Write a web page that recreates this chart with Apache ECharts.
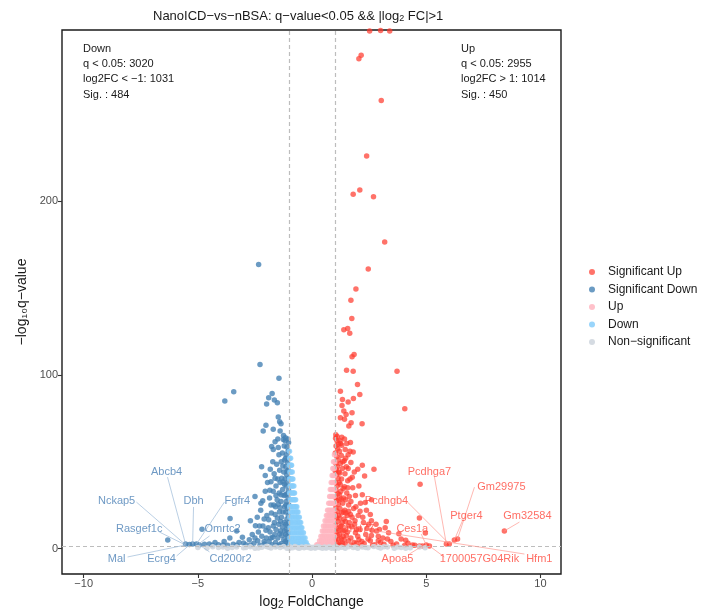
<!DOCTYPE html>
<html>
<head>
<meta charset="utf-8">
<script src="https://cdn.jsdelivr.net/npm/echarts@6/dist/echarts.min.js"></script>
<style>
html, body { margin: 0; padding: 0; background: #fff; }
#chart { width: 706px; height: 615px; }
</style>
</head>
<body>
<div id="chart"></div>
<script>
// values: [log2FC, -log10 q]
const sigUp = [
    [2.52, 298], [3.0, 298.3], [3.4, 298], [2.15, 284], [2.05, 282], [3.03, 258], [2.39, 226],
    [2.09, 206.5], [1.8, 204], [2.69, 202.5], [3.18, 176.5], [2.46, 161], [1.92, 149.5],
    [1.7, 143], [1.74, 132.5], [1.39, 126], [1.56, 126.7], [1.65, 124], [1.84, 111.7],
    [1.75, 110.4], [1.51, 102.7], [1.8, 102.1], [3.72, 102.1], [1.99, 94.5], [1.24, 90.6],
    [2.09, 88.7], [1.33, 85.8], [1.81, 86.4], [1.58, 84.3], [4.06, 80.5], [1.39, 79.2],
    [1.75, 78.2], [1.49, 77.2], [1.24, 75.3], [1.42, 74.4], [1.71, 72.4], [2.19, 71.9],
    [1.61, 70.5], [1.31, 82.4],
    [1.03, 63.5], [1.09, 62], [1.05, 59], [1.12, 57.5], [1.02, 55], [1.08, 53], [1.15, 51],
    [1.04, 49], [1.11, 47], [1.02, 44.5], [1.07, 42.5], [1.14, 40.5], [1.03, 38], [1.1, 36],
    [1.05, 33.5], [1.13, 31.5], [1.02, 29.5], [1.08, 27.5], [1.15, 25.5], [1.04, 23.5],
    [1.1, 21.5], [1.02, 19.5], [1.07, 17.5], [1.13, 15.5], [1.03, 13.5], [1.09, 11.5],
    [1.05, 9.5], [1.12, 7.5], [1.02, 5.5], [1.08, 3.5], [1.14, 2.0],
    [1.22, 62], [1.3, 59.5], [1.2, 56], [1.28, 53.5], [1.24, 49], [1.33, 46], [1.21, 43.5],
    [1.29, 40], [1.23, 37], [1.36, 34.5], [1.2, 31], [1.27, 28.5], [1.34, 26], [1.22, 23],
    [1.3, 20.5], [1.21, 17.5], [1.32, 15], [1.24, 12.5], [1.35, 10], [1.2, 8], [1.28, 5.5],
    [1.33, 3], [1.22, 1.8],
    [1.42, 63], [1.52, 60.5], [1.45, 57], [1.58, 54], [1.41, 50.5], [1.5, 47], [1.44, 43],
    [1.56, 39], [1.42, 35.5], [1.52, 32], [1.47, 28], [1.6, 25], [1.43, 22], [1.54, 19],
    [1.46, 15.5], [1.58, 13], [1.42, 10.5], [1.5, 7.5], [1.6, 4.5], [1.45, 2.5],
    [1.68, 61], [1.8, 55.5], [1.7, 49.5], [1.85, 44], [1.66, 40], [1.78, 35], [1.9, 30.5],
    [1.7, 27], [1.82, 23], [1.68, 19.5], [1.88, 16], [1.74, 12.5], [1.9, 9], [1.7, 6],
    [1.84, 3.5], [1.72, 1.9],
    [2.0, 45.6], [2.3, 41.8], [2.05, 36], [2.2, 31], [2.12, 26], [2.38, 22], [2.02, 19],
    [2.25, 15], [2.1, 11], [2.35, 8], [2.05, 5], [2.28, 2.8], [2.15, 1.7],
    [2.71, 45.6], [2.6, 28], [2.55, 19.5], [2.8, 14], [2.62, 10.5], [2.9, 7], [2.55, 4.5],
    [2.75, 2.2], [3.0, 3.5], [3.2, 12], [3.1, 6], [3.45, 4], [3.35, 9], [3.7, 2.6], [3.9, 5.5],
    [3.55, 1.9], [4.2, 3], [4.4, 2], [4.05, 1.7], [4.73, 37], [4.7, 17.5], [4.96, 8.9],
    [4.7, 1.4], [4.83, 1.4], [5.0, 2.0], [5.14, 1.4], [2.82, 10.1],
    [1.06, 45.5], [1.17, 44], [1.26, 33], [1.18, 28], [1.37, 21], [1.16, 19], [1.4, 17],
    [1.28, 13], [1.18, 10.5], [1.4, 5], [1.55, 9.5], [1.63, 15], [1.75, 18], [1.6, 21.5],
    [1.92, 24], [1.63, 30], [1.76, 41], [1.95, 11], [2.0, 7], [1.95, 3], [2.18, 4], [2.45, 5.5],
    [2.4, 11.5], [2.22, 18], [2.48, 14], [2.6, 7.5], [2.9, 4.5], [2.65, 1.8], [3.15, 2.5],
    [3.3, 5.5], [1.17, 5], [1.25, 2.4], [1.36, 7], [1.48, 20.5], [1.56, 35], [1.1, 64.5],
    [1.3, 64], [1.18, 38], [1.38, 29], [1.58, 46], [1.86, 14], [2.1, 21.5], [2.33, 26.5],
    [2.6, 16], [1.25, 60.5], [1.47, 52], [1.66, 56], [2.2, 48], [3.8, 8.5], [4.1, 4.8],
    [4.5, 1.9], [3.25, 15.5], [2.95, 11], [1.04, 65.5], [1.35, 50], [1.15, 60],
    [5.88, 2.6], [6.01, 2.6], [6.23, 4.9], [6.37, 5.5], [8.42, 10.1]
];

const sigDown = [
    [-2.34, 163.6], [-2.28, 106], [-1.45, 98.1], [-3.43, 90.3], [-3.82, 84.9], [-1.75, 89.3],
    [-1.9, 86.8], [-1.65, 85.5], [-1.52, 83.9], [-1.99, 83.2], [-1.48, 75.7], [-1.42, 73],
    [-1.36, 71.9], [-2.02, 70.9], [-2.14, 67.7], [-1.7, 68.6], [-1.4, 67.6], [-1.17, 63.8],
    [-1.26, 62.8], [-1.62, 61.5], [-1.77, 58.7], [-1.48, 58.1], [-2.21, 47], [-1.83, 45.6],
    [-3.59, 17.3], [-2.24, 26.1],
    [-1.03, 61], [-1.1, 58.5], [-1.05, 56], [-1.13, 54], [-1.02, 51.5], [-1.08, 49.5],
    [-1.15, 47], [-1.04, 45], [-1.11, 42.5], [-1.02, 40.5], [-1.07, 38], [-1.14, 36],
    [-1.03, 33.5], [-1.1, 31.5], [-1.05, 29], [-1.13, 27], [-1.02, 25], [-1.08, 23],
    [-1.15, 21], [-1.04, 19], [-1.1, 17], [-1.02, 15], [-1.07, 13], [-1.13, 11], [-1.03, 9],
    [-1.09, 7], [-1.05, 5], [-1.12, 3.2], [-1.02, 1.9],
    [-1.22, 59], [-1.3, 55], [-1.2, 51], [-1.28, 47.5], [-1.24, 44], [-1.33, 40.5],
    [-1.21, 37], [-1.29, 34], [-1.23, 30.5], [-1.36, 27], [-1.2, 24], [-1.27, 21],
    [-1.34, 18], [-1.22, 15], [-1.3, 12.5], [-1.21, 10], [-1.32, 7.5], [-1.24, 5],
    [-1.35, 2.8], [-1.2, 1.7],
    [-1.45, 54], [-1.55, 48.5], [-1.42, 45], [-1.5, 40], [-1.58, 36], [-1.44, 32],
    [-1.53, 28], [-1.6, 24], [-1.43, 21], [-1.52, 17.5], [-1.46, 14], [-1.58, 11],
    [-1.42, 8.5], [-1.5, 6], [-1.6, 3.5], [-1.45, 2.0],
    [-1.72, 50], [-1.66, 43], [-1.8, 38.5], [-1.7, 33], [-1.86, 29], [-1.68, 25],
    [-1.78, 20.5], [-1.9, 16.5], [-1.7, 13], [-1.84, 9.5], [-1.72, 6.5], [-1.88, 4],
    [-1.75, 2.2],
    [-2.05, 33], [-1.95, 38], [-2.25, 22], [-2.1, 17], [-2.3, 13], [-2.02, 10.5], [-2.2, 7],
    [-2.38, 4.5], [-2.08, 2.6], [-2.28, 1.8], [-2.5, 30],
    [-2.48, 13.1], [-2.62, 8], [-2.75, 5], [-2.55, 3], [-2.9, 2.2], [-2.7, 16],
    [-3.05, 6.5], [-3.2, 3.5], [-3.45, 2.4], [-3.7, 1.9], [-3.85, 4],
    [-4.1, 2.2], [-4.36, 1.8], [-4.5, 2.6], [-4.82, 11.1], [-4.71, 2.5],
    [-1.06, 63], [-1.18, 62], [-1.16, 52], [-1.35, 50], [-1.18, 40], [-1.4, 38], [-1.17, 31],
    [-1.36, 31], [-1.15, 25], [-1.4, 23.5], [-1.15, 14], [-1.38, 15.5], [-1.16, 8], [-1.38, 10],
    [-1.17, 4], [-1.3, 1.6], [-1.55, 1.6], [-1.63, 8], [-1.65, 15], [-1.62, 19.5], [-1.58, 30.5],
    [-1.8, 25], [-1.92, 12], [-2.0, 6], [-1.98, 19], [-2.15, 13], [-2.35, 9.5], [-2.5, 6],
    [-2.7, 2.0], [-3.0, 3.2], [-3.3, 1.8], [-1.62, 40.5], [-1.7, 57], [-1.5, 63], [-1.85, 33.5],
    [-2.16, 27.5], [-2.05, 42], [-2.4, 18], [-3.3, 10], [-3.6, 6], [-3.9, 2.0], [-4.25, 3.4],
    [-1.25, 65], [-1.1, 44.5], [-1.28, 38.5], [-1.48, 25.5], [-1.8, 6], [-2.1, 4],
    [-5.54, 2.6], [-5.37, 2.3], [-5.23, 2.6], [-5.06, 2.6], [-4.93, 2.0], [-6.32, 4.9]
];

const up = [
    [0.98, 54], [0.99, 50], [0.94, 50], [0.97, 46], [0.91, 46], [0.99, 42], [0.93, 42], [0.88, 42],
    [0.96, 38], [0.9, 38], [0.84, 38], [0.98, 34], [0.92, 34], [0.86, 34], [0.8, 34],
    [0.95, 30], [0.89, 30], [0.83, 30], [0.77, 30], [0.98, 26], [0.92, 26], [0.85, 26],
    [0.79, 26], [0.73, 26], [0.95, 22], [0.88, 22], [0.81, 22], [0.74, 22], [0.68, 22],
    [0.97, 19], [0.9, 19], [0.83, 19], [0.76, 19], [0.69, 19], [0.63, 19],
    [0.93, 16], [0.86, 16], [0.78, 16], [0.71, 16], [0.64, 16], [0.57, 16],
    [0.96, 13], [0.88, 13], [0.8, 13], [0.72, 13], [0.64, 13], [0.57, 13], [0.5, 13],
    [0.92, 10], [0.84, 10], [0.76, 10], [0.68, 10], [0.6, 10], [0.52, 10], [0.45, 10],
    [0.97, 7], [0.88, 7], [0.79, 7], [0.7, 7], [0.62, 7], [0.54, 7], [0.46, 7], [0.39, 7],
    [0.93, 4.5], [0.84, 4.5], [0.75, 4.5], [0.66, 4.5], [0.57, 4.5], [0.49, 4.5], [0.41, 4.5], [0.33, 4.5],
    [0.96, 2.2], [0.86, 2.2], [0.77, 2.2], [0.68, 2.2], [0.59, 2.2], [0.5, 2.2], [0.42, 2.2],
    [0.34, 2.2], [0.27, 2.2], [0.21, 2.2]
];

const down = [
    [-0.99, 56], [-0.98, 52], [-0.94, 52], [-0.99, 48], [-0.93, 48], [-0.9, 48],
    [-0.97, 44], [-0.92, 44], [-0.87, 44], [-0.99, 40], [-0.94, 40], [-0.88, 40], [-0.84, 40],
    [-0.96, 36], [-0.9, 36], [-0.85, 36], [-0.8, 36], [-0.98, 32], [-0.93, 32], [-0.87, 32],
    [-0.81, 32], [-0.77, 32], [-0.95, 28], [-0.89, 28], [-0.83, 28], [-0.77, 28], [-0.72, 28],
    [-0.98, 24], [-0.92, 24], [-0.85, 24], [-0.78, 24], [-0.72, 24], [-0.67, 24],
    [-0.94, 21], [-0.87, 21], [-0.8, 21], [-0.73, 21], [-0.66, 21], [-0.62, 21],
    [-0.97, 18], [-0.9, 18], [-0.83, 18], [-0.75, 18], [-0.68, 18], [-0.61, 18], [-0.56, 18],
    [-0.93, 15], [-0.86, 15], [-0.78, 15], [-0.7, 15], [-0.62, 15], [-0.55, 15], [-0.5, 15],
    [-0.96, 12], [-0.88, 12], [-0.8, 12], [-0.72, 12], [-0.64, 12], [-0.56, 12], [-0.49, 12], [-0.45, 12],
    [-0.92, 9], [-0.84, 9], [-0.75, 9], [-0.67, 9], [-0.59, 9], [-0.51, 9], [-0.44, 9], [-0.38, 9],
    [-0.97, 6], [-0.88, 6], [-0.79, 6], [-0.7, 6], [-0.61, 6], [-0.53, 6], [-0.45, 6], [-0.37, 6], [-0.31, 6],
    [-0.93, 3.5], [-0.84, 3.5], [-0.74, 3.5], [-0.65, 3.5], [-0.56, 3.5], [-0.47, 3.5], [-0.39, 3.5],
    [-0.32, 3.5], [-0.26, 3.5],
    [-0.96, 1.8], [-0.87, 1.8], [-0.77, 1.8], [-0.68, 1.8], [-0.58, 1.8], [-0.49, 1.8], [-0.41, 1.8],
    [-0.33, 1.8], [-0.26, 1.8], [-0.2, 1.8]
];

const nonSig = [
    [-4.6, 0.3], [-4.1, 0.6], [-3.7, 0.2], [-3.3, 0.9], [-3.0, 0.4], [-2.7, 1.0], [-2.5, 0.1],
    [-2.2, 0.7], [-2.0, 1.1], [-1.8, 0.3], [-1.6, 0.8], [-1.4, 0.5], [-1.25, 1.2], [-1.1, 0.2],
    [-0.95, 0.9], [-0.85, 0.4], [-0.75, 1.1], [-0.65, 0.6], [-0.55, 0.1], [-0.45, 0.8],
    [-0.35, 0.35], [-0.25, 1.0], [-0.15, 0.5], [-0.05, 0.15], [0.05, 0.7], [0.15, 0.3],
    [0.25, 1.1], [0.35, 0.55], [0.45, 0.1], [0.55, 0.85], [0.65, 0.4], [0.75, 1.05], [0.85, 0.2],
    [0.95, 0.65], [1.05, 0.95], [1.15, 0.3], [1.3, 0.75], [1.45, 0.15], [1.6, 1.0], [1.8, 0.5],
    [2.0, 0.2], [2.2, 0.9], [2.45, 0.4], [2.7, 1.1], [3.0, 0.3], [3.3, 0.8], [3.6, 0.2],
    [3.9, 0.6], [4.3, 0.4], [4.7, 0.9], [-0.6, 0.25], [0.6, 0.3], [-0.3, 0.7], [0.3, 0.8],
    [-1.0, 0.05], [1.0, 0.05], [-2.9, 0.6], [2.9, 0.65], [-0.1, 0.9], [0.1, 0.45],
    [-5.0, 0.5], [-4.35, 1.0], [-3.9, 0.9], [-3.5, 0.5], [-2.35, 0.3], [-1.9, 0.75],
    [1.9, 0.8], [2.35, 0.6], [3.15, 1.0], [3.75, 0.9], [4.1, 0.1], [4.95, 0.4]
];

const groupNames = ['Significant Up', 'Significant Down', 'Up', 'Down', 'Non\u2212significant'];
const xTicks = [-10, -5, 0, 5, 10];
const yTicks = [0, 100, 200];
const fcCut = [-1, 1];
const qCut = 1.3;

// gene, point x, point y, label x, label y, segment start x, segment start y
const genesDown = [
    ['Abcb4', -5.54, 2.6, -6.37, 44.0, -6.33, 41.1],
    ['Nckap5', -5.58, 2.6, -8.56, 27.3, -7.69, 26.7],
    ['Dbh', -5.23, 2.6, -5.19, 27.3, -5.19, 23.9],
    ['Fgfr4', -5.06, 2.6, -3.27, 27.3, -3.84, 26.7],
    ['Rasgef1c', -5.54, 2.0, -7.57, 11.2, -6.69, 9.5],
    ['Omrtc2', -4.97, 2.6, -3.92, 11.2, -4.49, 7.2],
    ['Mal', -5.54, 2.0, -8.56, -6.0, -8.08, -4.9],
    ['Ecrg4', -5.37, 2.0, -6.59, -6.0, -5.93, -4.3],
    ['Cd200r2', -4.93, 2.0, -3.57, -6.0, -4.49, -2.0]
];
const genesUp = [
    ['Pcdhga7', 5.88, 2.6, 5.14, 44.0, 5.36, 41.1],
    ['Gm29975', 6.37, 5.5, 8.29, 35.3, 7.11, 35.3],
    ['Pcdhgb4', 6.01, 2.6, 3.26, 27.3, 4.18, 26.7],
    ['Ptger4', 6.23, 4.9, 6.76, 18.7, 6.58, 15.8],
    ['Gm32584', 8.42, 10.1, 9.43, 18.7, 9.08, 15.2],
    ['Ces1a', 5.0, 2.0, 4.39, 11.2, 4.78, 8.3],
    ['Dmrt77', 2.82, 10.1, 1.94, 11.2, 1.94, 11.2],
    ['Apoa5', 4.83, 1.4, 3.74, -6.0, 4.26, -3.2],
    ['1700057G04Rik', 5.14, 1.4, 7.33, -6.0, 5.79, -4.9],
    ['Hfm1', 2.82, 10.1, 9.95, -6.0, 9.30, -3.2]
];

const colors = ['#FF3B2F', '#4682B4', '#FFB6C1', '#87CEFA', '#D0D7DF'];
const FONT = "'Liberation Sans', Arial, sans-serif";
const minus = (v) => String(v).replace('-', '\u2212');

const chart = echarts.init(document.getElementById('chart'));

function pointSeries(name, data, color, opacity) {
    return {
        name: name,
        type: 'scatter',
        data: data,
        symbolSize: 5.5,
        itemStyle: { color: color, opacity: opacity },
        emphasis: { disabled: true },
        silent: true
    };
}

function segSeries(list, color) {
    return {
        type: 'lines',
        coordinateSystem: 'cartesian2d',
        polyline: false,
        silent: true,
        z: 5,
        lineStyle: { color: color, width: 1, opacity: 0.7 },
        data: list.filter(g => g[3] !== g[5] || g[4] !== g[6])
            .map(g => ({ coords: [[g[5], g[6]], [g[1], g[2]]] }))
    };
}

function textSeries(list, color) {
    return {
        type: 'scatter',
        silent: true,
        z: 6,
        symbolSize: 1,
        itemStyle: { color: 'rgba(0,0,0,0)' },
        label: {
            show: true,
            position: 'inside',
            formatter: '{b}',
            color: color,
            fontSize: 11,
            fontFamily: FONT
        },
        data: list.map(g => ({ name: g[0], value: [g[3], g[4]] }))
    };
}

const subStyle = { fontSize: 10, verticalAlign: 'bottom', padding: [6, 0, 0, 0], fontFamily: FONT };

const option = {
    animation: false,
    textStyle: { fontFamily: FONT },
    title: {
        text: 'NanoICD\u2212vs\u2212nBSA: q\u2212value<0.05 && |log{s|2} FC|>1',
        left: 148,
        top: 4,
        textStyle: {
            fontSize: 13,
            fontWeight: 'normal',
            color: '#1a1a1a',
            fontFamily: FONT,
            rich: { s: { fontSize: 9, verticalAlign: 'bottom', padding: [5, 0, 0, 0], fontFamily: FONT } }
        }
    },
    legend: {
        data: groupNames,
        orient: 'vertical',
        left: 584,
        top: 260,
        icon: 'circle',
        itemWidth: 22,
        itemHeight: 6,
        itemGap: 3.5,
        textStyle: { fontSize: 12, color: '#1a1a1a', lineHeight: 14, fontFamily: FONT }
    },
    grid: {
        left: 62,
        right: 145,
        top: 30,
        bottom: 40,
        show: true,
        borderColor: '#1a1a1a',
        borderWidth: 1.4
    },
    xAxis: {
        type: 'value',
        min: -10.95,
        max: 10.9,
        name: 'log{s|2} FoldChange',
        nameLocation: 'middle',
        nameGap: 20,
        nameTextStyle: { fontSize: 14, color: '#1a1a1a', rich: { s: subStyle } },
        splitLine: { show: false },
        axisLine: { show: false, onZero: false },
        axisTick: { show: true, length: 4, lineStyle: { color: '#333', width: 1.1 }, customValues: xTicks },
        axisLabel: { customValues: xTicks, formatter: minus, fontSize: 11, color: '#4d4d4d', margin: 4 }
    },
    yAxis: {
        type: 'value',
        min: -14.7,
        max: 298.6,
        name: '\u2212log\u2081\u2080q\u2212value',
        nameLocation: 'middle',
        nameGap: 33,
        nameTextStyle: { fontSize: 14, color: '#1a1a1a', fontFamily: FONT },
        splitLine: { show: false },
        axisLine: { show: false, onZero: false },
        axisTick: { show: true, length: 4, lineStyle: { color: '#333', width: 1.1 }, customValues: yTicks },
        axisLabel: { customValues: yTicks, formatter: minus, fontSize: 11, color: '#4d4d4d', margin: 4 }
    },
    graphic: [
        {
            type: 'text', left: 83, top: 41, silent: true,
            style: {
                text: 'Down\nq < 0.05: 3020\nlog2FC < \u22121: 1031\nSig. : 484',
                font: '11px ' + FONT, lineHeight: 15.3, fill: '#1a1a1a'
            }
        },
        {
            type: 'text', left: 461, top: 41, silent: true,
            style: {
                text: 'Up\nq < 0.05: 2955\nlog2FC > 1: 1014\nSig. : 450',
                font: '11px ' + FONT, lineHeight: 15.3, fill: '#1a1a1a'
            }
        }
    ],
    series: [
        pointSeries(groupNames[0], sigUp, colors[0], 0.72),
        pointSeries(groupNames[1], sigDown, colors[1], 0.8),
        pointSeries(groupNames[2], up, colors[2], 0.85),
        pointSeries(groupNames[3], down, colors[3], 0.85),
        Object.assign(pointSeries(groupNames[4], nonSig, colors[4], 0.9), {
            markLine: {
                silent: true,
                symbol: 'none',
                label: { show: false },
                lineStyle: { color: '#bdbdbd', type: [4, 3], width: 1.2 },
                data: [{ xAxis: fcCut[0] }, { xAxis: fcCut[1] }, { yAxis: qCut }]
            }
        }),
        segSeries(genesDown, '#9dbbd8'),
        segSeries(genesUp, '#ff9a92'),
        textSeries(genesDown, '#4a7fb5'),
        textSeries(genesUp, '#ff4a3d')
    ]
};

chart.setOption(option);
</script>
</body>
</html>
